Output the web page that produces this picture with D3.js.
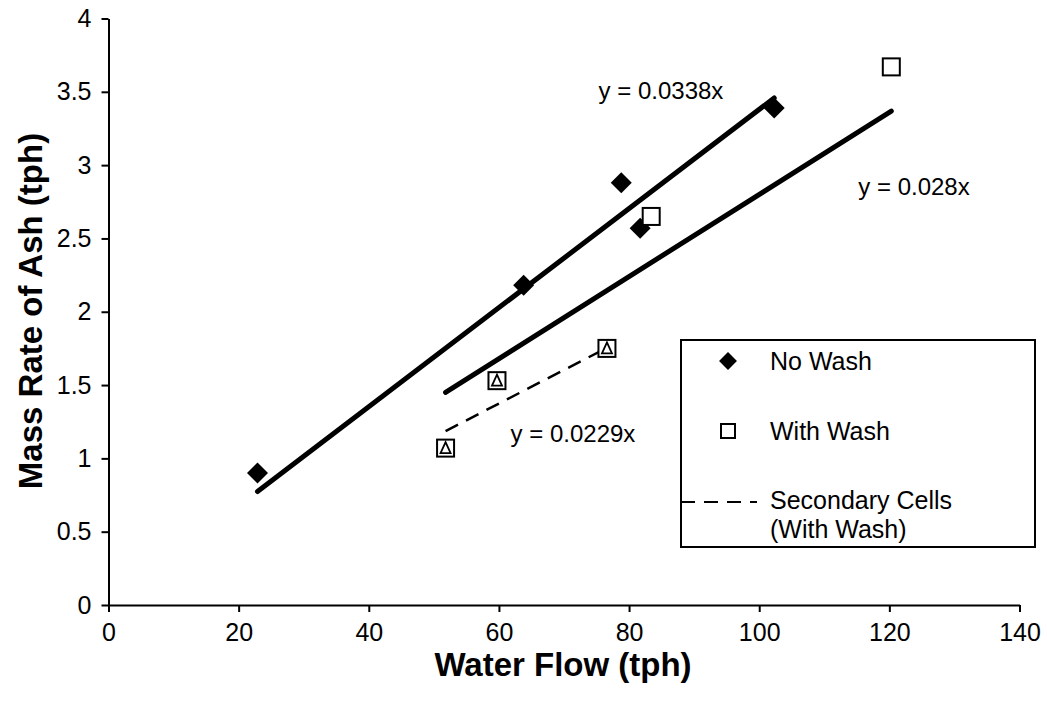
<!DOCTYPE html>
<html>
<head>
<meta charset="utf-8">
<script src="https://cdn.jsdelivr.net/npm/d3@7"></script>
<style>
  html, body { margin: 0; padding: 0; background: #fff; }
  svg { display: block; font-family: "Liberation Sans", Arial, sans-serif; }
</style>
</head>
<body>
<svg id="chart" width="1047" height="709"></svg>
<script>
// Water flow (tph) vs mass rate of ash (tph)
const noWashX = [22.9, 63.8, 78.8, 81.7, 102.3];
const noWashY = [0.90, 2.18, 2.88, 2.57, 3.39];
const withWashX = [51.8, 59.7, 76.6, 83.4, 120.3];
const withWashY = [1.07, 1.53, 1.75, 2.65, 3.67];
const secondaryX = [51.8, 59.7, 76.6];
const secondaryY = [1.07, 1.53, 1.75];

// Trendline slopes (fitted through origin)
const slopes = { noWash: 0.0338, withWash: 0.028, secondary: 0.0229 };
const trendLabels = ["y = 0.0338x", "y = 0.028x", "y = 0.0229x"];

const xTicks = [0, 20, 40, 60, 80, 100, 120, 140];
const yTicks = [0, 0.5, 1, 1.5, 2, 2.5, 3, 3.5, 4];
const legendLabels = ["No Wash", "With Wash", "Secondary Cells", "(With Wash)"];

const TICK_FONT = 25, NOTE_FONT = 24, LEGEND_FONT = 25, TITLE_FONT = 33;

const svg = d3.select("#chart");
const x = d3.scaleLinear().domain([0, 140]).range([108.5, 1019.5]);
const y = d3.scaleLinear().domain([0, 4]).range([605, 18.5]);

// Axes
const xAxis = svg.append("g").attr("transform", `translate(0,${y(0)})`)
  .call(d3.axisBottom(x).tickValues(xTicks).tickSize(7).tickSizeOuter(0).tickPadding(11).tickFormat(d3.format("d")));
const yAxis = svg.append("g").attr("transform", `translate(${x(0)},0)`)
  .call(d3.axisLeft(y).tickValues(yTicks).tickSize(7).tickSizeOuter(0).tickPadding(10).tickFormat(d => String(d)));
[xAxis, yAxis].forEach(g => {
  g.select(".domain").attr("stroke", "#000").attr("stroke-width", 2);
  g.selectAll(".tick line").attr("stroke", "#000").attr("stroke-width", 2);
  g.selectAll(".tick text").attr("fill", "#000").attr("font-size", TICK_FONT)
    .attr("font-family", "'Liberation Sans', Arial, sans-serif");
});

// Axis titles
svg.append("text").attr("x", 563).attr("y", 676).attr("text-anchor", "middle")
  .attr("font-size", TITLE_FONT).attr("font-weight", "bold").text("Water Flow (tph)");
svg.append("text").attr("transform", "translate(42,311) rotate(-90)").attr("text-anchor", "middle")
  .attr("font-size", TITLE_FONT).attr("font-weight", "bold").text("Mass Rate of Ash (tph)");

// Trendlines spanning each series' x range
function trend(xs, k) {
  const x0 = d3.min(xs), x1 = d3.max(xs);
  return [[x0, k * x0], [x1, k * x1]];
}
const line = d3.line().x(d => x(d[0])).y(d => y(d[1]));
svg.append("path").attr("d", line(trend(noWashX, slopes.noWash)))
  .attr("stroke", "#000").attr("stroke-width", 5).attr("stroke-linecap", "round").attr("fill", "none");
svg.append("path").attr("d", line(trend(withWashX, slopes.withWash)))
  .attr("stroke", "#000").attr("stroke-width", 5).attr("stroke-linecap", "round").attr("fill", "none");
svg.append("path").attr("d", line(trend(secondaryX, slopes.secondary)))
  .attr("stroke", "#000").attr("stroke-width", 2.5).attr("stroke-dasharray", "14,9").attr("fill", "none");

// Markers
const diamond = d3.symbol().type(d3.symbolSquare).size(220);
svg.append("g").selectAll("path").data(noWashX.map((v, i) => [v, noWashY[i]])).join("path")
  .attr("d", diamond).attr("transform", d => `translate(${x(d[0])},${y(d[1])}) rotate(45)`)
  .attr("fill", "#000");
svg.append("g").selectAll("rect").data(withWashX.map((v, i) => [v, withWashY[i]])).join("rect")
  .attr("x", d => x(d[0]) - 8.5).attr("y", d => y(d[1]) - 8.5).attr("width", 17).attr("height", 17)
  .attr("fill", "#fff").attr("stroke", "#000").attr("stroke-width", 2);
svg.append("g").selectAll("path").data(secondaryX.map((v, i) => [v, secondaryY[i]])).join("path")
  .attr("d", d => {
    const cx = x(d[0]), cy = y(d[1]);
    return `M${cx},${cy - 6}L${cx + 5},${cy + 5}L${cx - 5},${cy + 5}Z`;
  })
  .attr("fill", "none").attr("stroke", "#000").attr("stroke-width", 1.8);

// Trendline equations
svg.append("text").attr("x", 661).attr("y", 99).attr("text-anchor", "middle").attr("font-size", NOTE_FONT).text(trendLabels[0]);
svg.append("text").attr("x", 914).attr("y", 195).attr("text-anchor", "middle").attr("font-size", NOTE_FONT).text(trendLabels[1]);
svg.append("text").attr("x", 573).attr("y", 442).attr("text-anchor", "middle").attr("font-size", NOTE_FONT).text(trendLabels[2]);

// Legend
const lg = svg.append("g");
lg.append("rect").attr("x", 681).attr("y", 340).attr("width", 354).attr("height", 207)
  .attr("fill", "#fff").attr("stroke", "#000").attr("stroke-width", 2);
lg.append("path").attr("d", d3.symbol().type(d3.symbolSquare).size(160))
  .attr("transform", "translate(728,361) rotate(45)").attr("fill", "#000");
lg.append("rect").attr("x", 721).attr("y", 424).attr("width", 14).attr("height", 14)
  .attr("fill", "#fff").attr("stroke", "#000").attr("stroke-width", 2);
lg.append("line").attr("x1", 681).attr("x2", 757).attr("y1", 502).attr("y2", 502)
  .attr("stroke", "#000").attr("stroke-width", 2).attr("stroke-dasharray", "14,9");
const lt = [[legendLabels[0], 370], [legendLabels[1], 440], [legendLabels[2], 509], [legendLabels[3], 538]];
lg.selectAll("text").data(lt).join("text").attr("x", 770).attr("y", d => d[1]).attr("font-size", LEGEND_FONT).text(d => d[0]);
</script>
</body>
</html>
